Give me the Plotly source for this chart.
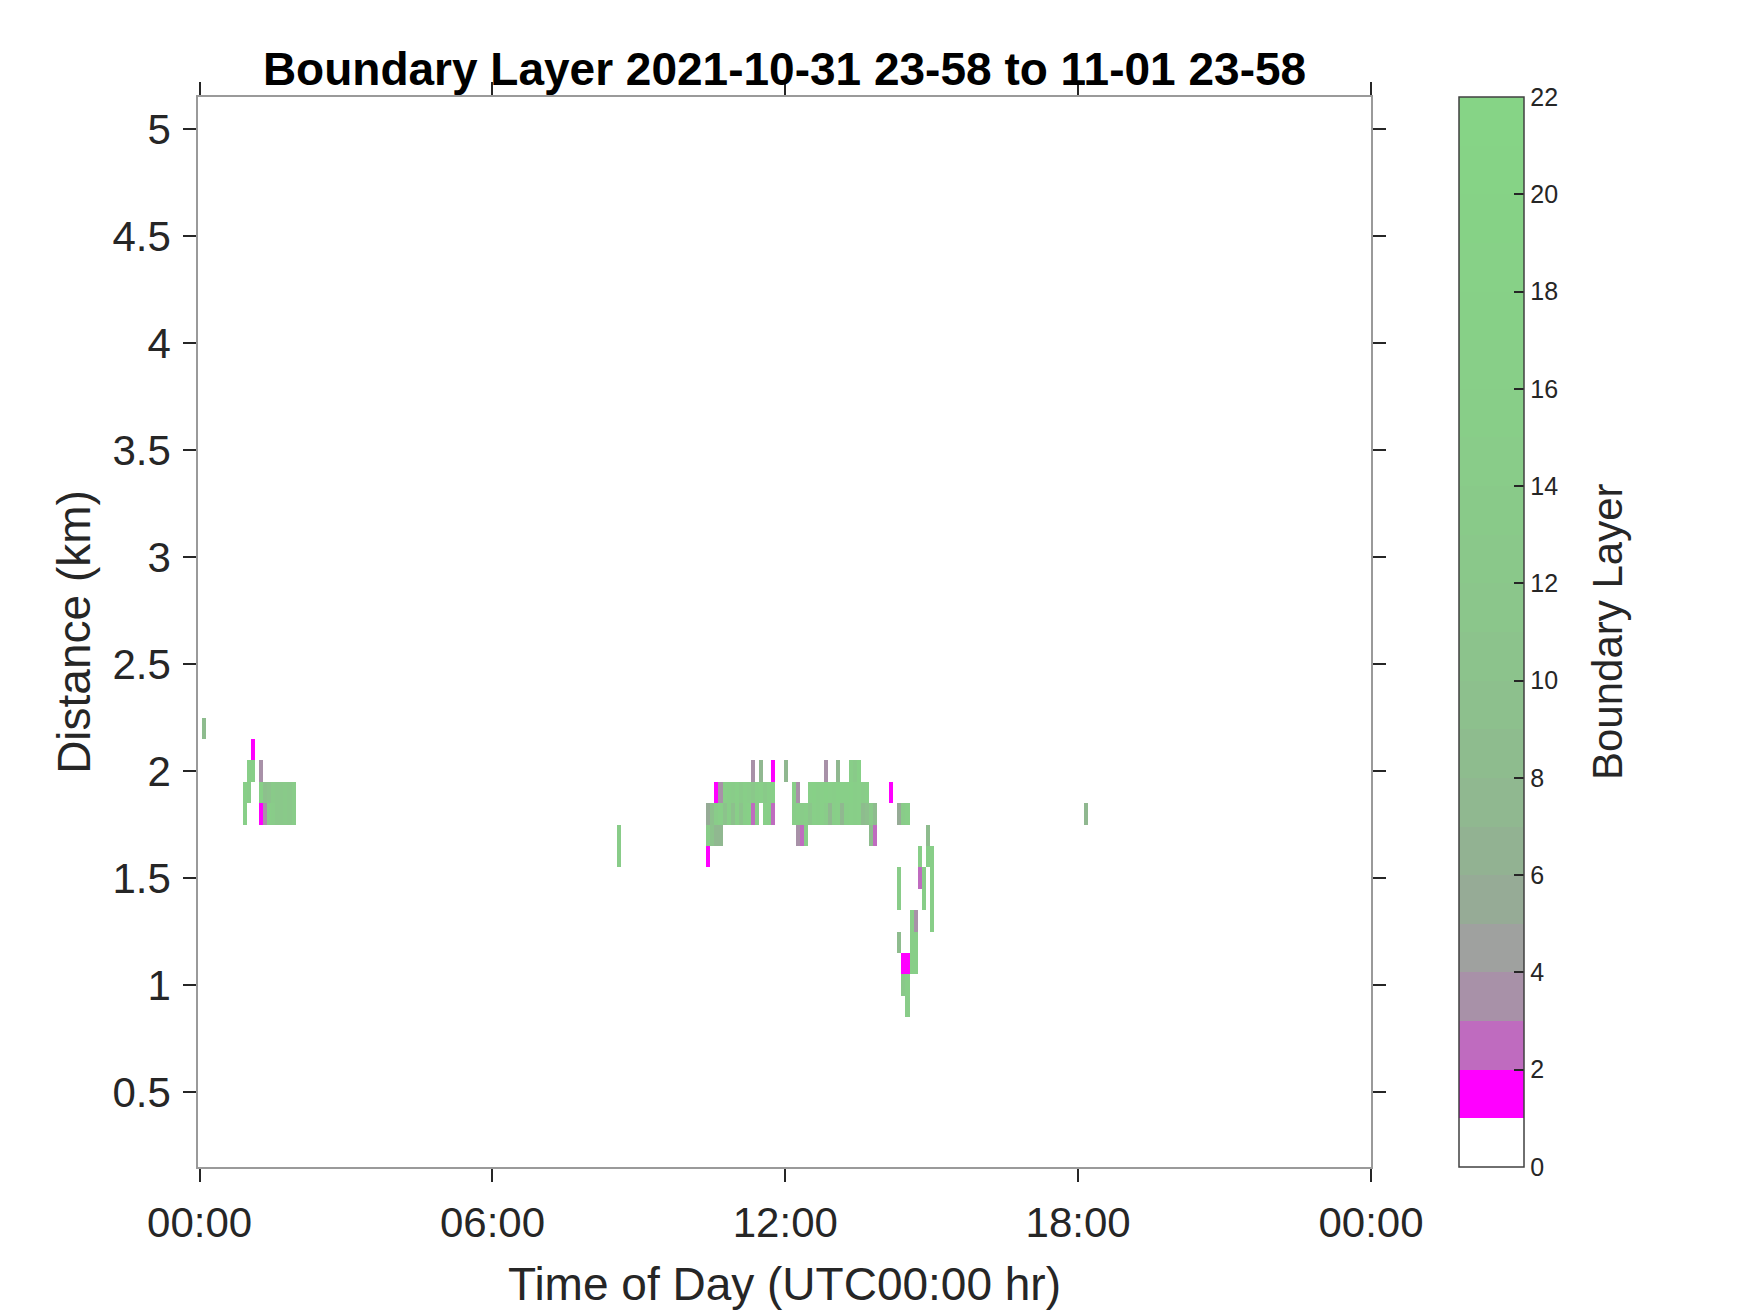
import numpy as np
import plotly.graph_objects as go

# ---------------- data ----------------
# time slots: 5-minute bins starting 2021-10-31 23:58 (i.e. -2 min)
SLOT_MIN = 5
START_OFFSET_MIN = -2
N_SLOTS = 288
# range gates (km, bin centres)
height_km = [round(0.2 + 0.1 * k, 1) for k in range(50)]

# runs of consecutive filled cells: height (km), start of first slot (HH:MM), values
run_km = [
    2.2, 2.1, 2.0, 2.0, 1.9, 1.9, 1.8, 1.8,
    1.7, 1.6,
    2.0, 2.0, 2.0, 2.0, 2.0, 2.0, 2.0,
    1.9, 1.9, 1.9, 1.9,
    1.8, 1.8, 1.8, 1.8,
    1.7, 1.7, 1.7, 1.6,
    1.7, 1.6, 1.6, 1.5, 1.5, 1.5, 1.4, 1.4, 1.4, 1.3, 1.3,
    1.2, 1.2, 1.1, 1.0, 0.9,
    1.8,
]
run_start = [
    "00:03", "01:03", "00:58", "01:13", "00:53", "01:13", "00:53", "01:13",
    "08:33", "08:33",
    "11:18", "11:28", "11:43", "11:58", "12:48", "13:03", "13:18",
    "10:33", "12:08", "12:28", "14:08",
    "10:23", "11:33", "12:08", "14:18",
    "10:23", "12:13", "13:43", "10:23",
    "14:53", "14:43", "14:53", "14:18", "14:43", "14:58", "14:18", "14:48", "14:58", "14:33", "14:58",
    "14:18", "14:33", "14:23", "14:23", "14:28",
    "18:08",
]
run_values = [
    [8], [1.5], [15, 16], [3.5], [16, 14], [17, 9, 10, 13, 12, 12, 13, 12, 14],
    [16], [1.5, 3.5, 15, 14, 12, 12, 13, 12, 14],
    [14], [14],
    [3.5], [7], [1.5], [7], [3], [7], [15, 13, 17],
    [1.5, 3.5, 16, 15, 14, 16, 13, 15, 14, 12, 15, 16, 13, 15, 16],
    [16, 3.5],
    [16, 17, 15, 16, 17, 16, 15, 17, 16, 16, 17, 15, 16, 14, 15],
    [1.5],
    [5, 9, 14, 16, 10, 15, 9, 16, 10, 15, 17, 2.5, 15],
    [16, 15, 2.5],
    [15, 16, 14, 15, 11, 16, 15, 16, 14, 7, 15, 16, 7, 15, 16, 15, 16, 8, 9, 13, 8],
    [5, 14, 16],
    [14, 10, 7, 7], [3.5, 2.5, 14], [8, 2.5], [1.5],
    [8], [15], [15, 15], [14], [2.5, 15], [15], [14], [15], [15], [15, 3.5], [15],
    [8], [15, 15], [1.5, 1.5, 15, 15], [12, 15], [14],
    [7],
]

# colour map (one colour per unit of the 0..22 scale)
band_colors = [
    "#FFFFFF", "#FF00FF", "#BF6BBF", "#A891A8", "#9FA19F", "#96AB96",
    "#92B292", "#90B890", "#8EBC8E", "#8DC08D", "#8CC38C", "#8BC68B",
    "#8AC88A", "#89CA89", "#89CC89", "#88CE88", "#88CF88", "#87D087",
    "#87D187", "#86D286", "#86D386", "#86D486",
]
x_tickvals = [0, 6, 12, 18, 24]
x_ticktext = ["00:00", "06:00", "12:00", "18:00", "00:00"]
y_tickvals = [0.5, 1, 1.5, 2, 2.5, 3, 3.5, 4, 4.5, 5]
y_ticktext = ["0.5", "1", "1.5", "2", "2.5", "3", "3.5", "4", "4.5", "5"]
cb_tickvals = list(range(0, 23, 2))

# ---------------- build grid ----------------
z = np.full((len(height_km), N_SLOTS), np.nan)
for km, st, vals in zip(run_km, run_start, run_values):
    hh, mm = st.split(":")
    m = int(hh) * 60 + int(mm)
    i0 = (m - START_OFFSET_MIN) // SLOT_MIN
    r = height_km.index(round(km, 1))
    for j, v in enumerate(vals):
        z[r, i0 + j] = v

x_hours = [(START_OFFSET_MIN + SLOT_MIN * i + SLOT_MIN / 2) / 60 for i in range(N_SLOTS)]

nb = len(band_colors)
colorscale = []
for k, c in enumerate(band_colors):
    colorscale.append([k / nb, c])
    colorscale.append([(k + 1) / nb, c])

FONT = "Liberation Sans, Arial, Helvetica, sans-serif"
TXT = "#262626"

W, H = 1742, 1305
ML, MR, MT, MB = 190, 379, 89, 138.5
PW = W - ML - MR

fig = go.Figure(
    go.Heatmap(
        x=x_hours, y=height_km, z=z,
        zmin=0, zmax=22, colorscale=colorscale,
        hoverongaps=False,
        colorbar=dict(
            thickness=65, thicknessmode="pixels",
            len=1, lenmode="fraction",
            x=(1450.7 - ML) / PW, xanchor="left", xpad=0,
            y=0.5, yanchor="middle", ypad=0,
            tickvals=cb_tickvals, ticks="inside", ticklen=10,
            tickcolor=TXT, tickwidth=1.5,
            tickfont=dict(size=25, color=TXT, family=FONT),
            outlinecolor="#404040", outlinewidth=1.5,
        ),
    )
)

axis_common = dict(
    ticks="outside", ticklen=13, tickwidth=1.5, tickcolor=TXT,
    showline=True, linecolor="#9a9a9a", linewidth=1.5, mirror="allticks",
    showgrid=False, zeroline=False,
    tickfont=dict(size=42, color=TXT, family=FONT),
)

fig.update_layout(
    width=W, height=H,
    margin=dict(l=ML, r=MR, t=MT, b=MB),
    paper_bgcolor="white", plot_bgcolor="white",
    font=dict(family=FONT, color=TXT),
    title=dict(
        text="<b>Boundary Layer 2021-10-31 23-58 to 11-01 23-58</b>",
        x=0.5, xref="paper", xanchor="center",
        y=1 - 61 / H, yref="container", yanchor="middle",
        font=dict(size=46, color="black", family=FONT),
    ),
    xaxis=dict(
        range=[-2 / 60, 24], tickvals=x_tickvals, ticktext=x_ticktext,
        ticklabelstandoff=5,
        title=dict(text="Time of Day (UTC00:00 hr)", standoff=23,
                   font=dict(size=46, color=TXT, family=FONT)),
        **axis_common,
    ),
    yaxis=dict(
        range=[0.15, 5.15], tickvals=y_tickvals, ticktext=y_ticktext,
        ticklabelstandoff=4,
        title=dict(text="Distance (km)", standoff=7,
                   font=dict(size=46, color=TXT, family=FONT)),
        **axis_common,
    ),
    annotations=[
        dict(
            text="Boundary Layer", textangle=-90,
            x=(1599 - ML) / PW, xref="paper", xanchor="center",
            y=0.5, yref="paper", yanchor="middle",
            showarrow=False,
            font=dict(size=42, color=TXT, family=FONT),
        )
    ],
)

fig.write_html("out.html")
